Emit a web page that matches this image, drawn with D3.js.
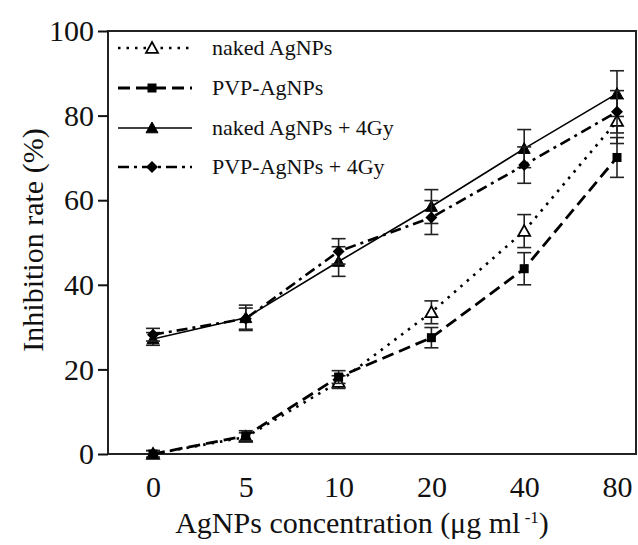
<!DOCTYPE html>
<html>
<head>
<meta charset="utf-8">
<script src="https://cdn.jsdelivr.net/npm/d3@7"></script>
<style>
  body { margin: 0; background: #fff; }
  svg { display: block; font-family: "Liberation Serif", "Times New Roman", serif; }
</style>
</head>
<body>
<div id="chart"></div>
<script>
// concentrations (categorical x axis)
const concentrations = ["0", "5", "10", "20", "40", "80"];
const yTicks = [0, 20, 40, 60, 80, 100];

// inhibition rate (%)
const nakedMean = [0, 4, 17, 33.5, 52.7, 78.7];
const nakedErr = [0.8, 1, 1.5, 2.7, 3.9, 5.3];
const pvpMean = [0, 4.3, 18.2, 27.5, 43.8, 70.1];
const pvpErr = [0.8, 1.2, 1.5, 2.4, 3.8, 4.7];
const naked4GyMean = [27.2, 32.2, 45.5, 58.5, 72.2, 85.2];
const naked4GyErr = [1.5, 3, 3.5, 4, 4.5, 5.4];
const pvp4GyMean = [28.2, 32, 47.9, 55.9, 68.3, 80.9];
const pvp4GyErr = [1.5, 2.5, 3, 4, 4.3, 5];

const seriesNames = ["naked AgNPs", "PVP-AgNPs", "naked AgNPs + 4Gy", "PVP-AgNPs + 4Gy"];

const width = 638, height = 545;
const margin = {top: 31, right: 1, bottom: 91, left: 108};
const fontBig = 30;

const series = [
    {name: seriesNames[0], mean: nakedMean, err: nakedErr, dash: "2.5,6", sw: 2.6, marker: "openTriangle"},
    {name: seriesNames[1], mean: pvpMean, err: pvpErr, dash: "12,6", sw: 2.8, marker: "square"},
    {name: seriesNames[2], mean: naked4GyMean, err: naked4GyErr, dash: null, sw: 1.6, marker: "triangle"},
    {name: seriesNames[3], mean: pvp4GyMean, err: pvp4GyErr, dash: "11,5,3,5", sw: 2.6, marker: "diamond"}
];

const svg = d3.select("#chart").append("svg")
    .attr("width", width)
    .attr("height", height);

const x = d3.scalePoint()
    .domain(concentrations)
    .range([margin.left + 45, width - margin.right - 20]);

const y = d3.scaleLinear()
    .domain([0, 100])
    .range([height - margin.bottom, margin.top]);

// frame
svg.append("rect")
    .attr("x", margin.left)
    .attr("y", margin.top)
    .attr("width", width - margin.right - margin.left - 1)
    .attr("height", height - margin.bottom - margin.top)
    .attr("fill", "none")
    .attr("stroke", "#222")
    .attr("stroke-width", 2);

// y axis
svg.append("g")
    .attr("transform", `translate(${margin.left},0)`)
    .call(d3.axisLeft(y).tickValues(yTicks).tickSize(10).tickPadding(4))
    .call(g => g.select(".domain").remove())
    .call(g => g.selectAll("line").attr("stroke", "#111").attr("stroke-width", 2))
    .call(g => g.selectAll("text")
        .attr("font-size", fontBig)
        .attr("font-family", "Liberation Serif")
        .attr("fill", "#111"));

// x axis (labels only)
svg.append("g")
    .attr("transform", `translate(0,${height - margin.bottom})`)
    .call(d3.axisBottom(x).tickSize(0).tickPadding(22))
    .call(g => g.select(".domain").remove())
    .call(g => g.selectAll("text")
        .attr("font-size", fontBig)
        .attr("font-family", "Liberation Serif")
        .attr("fill", "#111"));

// axis titles
const xTitle = svg.append("text")
    .attr("x", 362)
    .attr("y", 533)
    .attr("text-anchor", "middle")
    .attr("font-size", fontBig)
    .attr("fill", "#111");
xTitle.append("tspan").text("AgNPs concentration (\u03bcg ml");
xTitle.append("tspan").attr("dy", -10).attr("font-size", 17).text(" -1");
xTitle.append("tspan").attr("dy", 10).text(")");

svg.append("text")
    .attr("transform", "translate(43,240) rotate(-90)")
    .attr("text-anchor", "middle")
    .attr("font-size", fontBig)
    .attr("fill", "#111")
    .text("Inhibition rate (%)");

// markers
function drawMarker(g, type, cx, cy) {
    if (type === "square") {
        g.append("rect").attr("x", cx - 4.5).attr("y", cy - 4.5)
            .attr("width", 9).attr("height", 9).attr("fill", "#000");
    } else if (type === "triangle" || type === "openTriangle") {
        const s = 6;
        g.append("path")
            .attr("d", `M${cx},${cy - s}L${cx + s},${cy + s * 0.8}L${cx - s},${cy + s * 0.8}Z`)
            .attr("fill", type === "triangle" ? "#000" : "#fff")
            .attr("stroke", "#000")
            .attr("stroke-width", type === "triangle" ? 1 : 1.8);
    } else if (type === "diamond") {
        const s = 6;
        g.append("path")
            .attr("d", `M${cx},${cy - s}L${cx + s},${cy}L${cx},${cy + s}L${cx - s},${cy}Z`)
            .attr("fill", "#000");
    }
}

const line = d3.line()
    .x((d, i) => x(concentrations[i]))
    .y(d => y(d));

series.forEach(s => {
    const g = svg.append("g");
    // error bars
    s.mean.forEach((m, i) => {
        const cx = x(concentrations[i]);
        const y1 = y(m + s.err[i]), y0 = y(m - s.err[i]);
        g.append("line").attr("x1", cx).attr("x2", cx).attr("y1", y1).attr("y2", y0)
            .attr("stroke", "#222").attr("stroke-width", 1.6);
        [y1, y0].forEach(yy => {
            g.append("line").attr("x1", cx - 7).attr("x2", cx + 7).attr("y1", yy).attr("y2", yy)
                .attr("stroke", "#222").attr("stroke-width", 1.6);
        });
    });
    g.append("path")
        .datum(s.mean)
        .attr("d", line)
        .attr("fill", "none")
        .attr("stroke", "#000")
        .attr("stroke-width", s.sw)
        .attr("stroke-dasharray", s.dash);
    s.mean.forEach((m, i) => drawMarker(g, s.marker, x(concentrations[i]), y(m)));
});

// legend
const legend = svg.append("g");
const legendY = [48, 88, 128, 167];
series.forEach((s, i) => {
    const ly = legendY[i];
    legend.append("line")
        .attr("x1", 118).attr("x2", 192).attr("y1", ly).attr("y2", ly)
        .attr("stroke", "#000")
        .attr("stroke-width", s.sw)
        .attr("stroke-dasharray", s.dash);
    drawMarker(legend, s.marker, 152, ly);
    legend.append("text")
        .attr("x", 212).attr("y", ly + 7)
        .attr("font-size", 22)
        .attr("fill", "#111")
        .text(s.name);
});
</script>
</body>
</html>
